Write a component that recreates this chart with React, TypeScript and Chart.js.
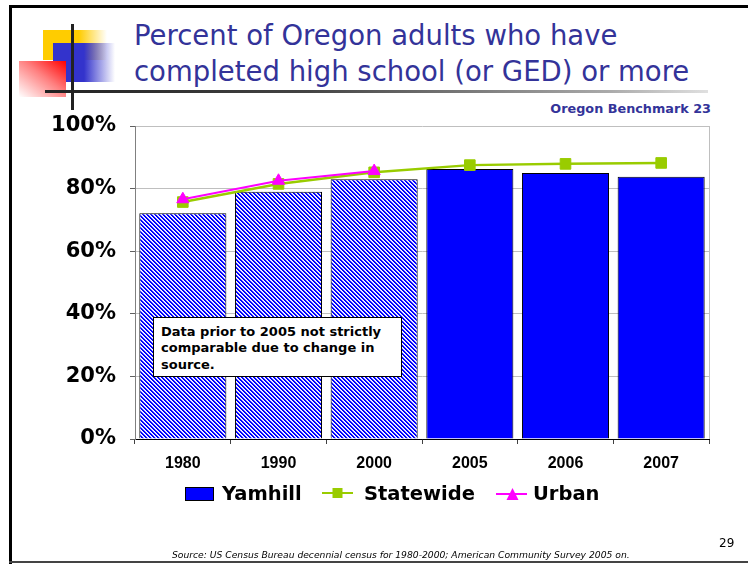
import React, { useEffect, useRef } from "react";
import { Chart, registerables } from "chart.js";

Chart.register(...registerables);

// ---------- data ----------
const categories = ["1980", "1990", "2000", "2005", "2006", "2007"];
const yamhill = [72.1, 79.0, 83.0, 86.3, 85.0, 83.8];
const statewide = [75.7, 81.5, 85.2, 87.5, 87.9, 88.2];
const urban: (number | null)[] = [76.6, 82.5, 85.6, null, null, null];
const yTickStep = 20;
const yMax = 100;
const hatchedCount = 3; // categories before 2005 are drawn hatched
const legendLabels = ["Yamhill", "Statewide", "Urban"];
const titleLines = ["Percent of Oregon adults who have", "completed high school (or GED) or more"];
const subtitle = "Oregon Benchmark 23";
const noteLines = ["Data prior to 2005 not strictly", "comparable due to change in", "source."];
const sourceText = "Source:  US Census Bureau decennial census for 1980-2000; American Community Survey 2005 on.";
const pageNumber = "29";

const TITLE_COLOR = "#333399";
const BLUE = "#0000FF";
const GREEN = "#99CC00";
const MAGENTA = "#FF00FF";

function makeHatch(ctx: CanvasRenderingContext2D): CanvasPattern | string {
  const c = document.createElement("canvas");
  c.width = 4;
  c.height = 4;
  const g = c.getContext("2d");
  if (!g) return BLUE;
  const img = g.createImageData(4, 4);
  const cols = [
    [0, 0, 255],
    [0, 0, 255],
    [200, 200, 255],
    [255, 255, 255],
  ];
  for (let y = 0; y < 4; y++) {
    for (let x = 0; x < 4; x++) {
      const k = (((x - y) % 4) + 4) % 4;
      const o = (y * 4 + x) * 4;
      img.data[o] = cols[k][0];
      img.data[o + 1] = cols[k][1];
      img.data[o + 2] = cols[k][2];
      img.data[o + 3] = 255;
    }
  }
  g.putImageData(img, 0, 0);
  return ctx.createPattern(c, "repeat") || BLUE;
}

const abs = (s: React.CSSProperties): React.CSSProperties => ({ position: "absolute", whiteSpace: "nowrap", ...s });

export default function App() {
  const ref = useRef<HTMLCanvasElement | null>(null);

  useEffect(() => {
    const canvas = ref.current;
    if (!canvas) return;
    const ctx = canvas.getContext("2d");
    if (!ctx) return;
    const hatch = makeHatch(ctx);

    const chart = new Chart(canvas, {
      type: "bar",
      data: {
        labels: categories,
        datasets: [
          {
            type: "line",
            label: legendLabels[2],
            data: urban,
            borderColor: MAGENTA,
            backgroundColor: MAGENTA,
            borderWidth: 2,
            pointStyle: "triangle",
            pointRadius: 7,
            pointBorderWidth: 1,
            pointBorderColor: MAGENTA,
            spanGaps: false,
            order: 1,
          } as any,
          {
            type: "line",
            label: legendLabels[1],
            data: statewide,
            borderColor: GREEN,
            backgroundColor: GREEN,
            borderWidth: 2.5,
            pointStyle: "rect",
            pointRadius: 7.5,
            pointBorderWidth: 1,
            pointBorderColor: GREEN,
            order: 2,
          } as any,
          {
            type: "bar",
            label: legendLabels[0],
            data: yamhill,
            backgroundColor: categories.map((_, i) => (i < hatchedCount ? hatch : BLUE)),
            borderColor: "#000000",
            borderWidth: 1,
            barPercentage: 0.91,
            categoryPercentage: 1,
            order: 3,
          } as any,
        ],
      },
      options: {
        responsive: false,
        animation: false,
        layout: { padding: { left: 0, right: 39, top: 126, bottom: 85 } },
        plugins: {
          legend: { display: false },
          tooltip: { enabled: false },
          title: { display: false },
        },
        scales: {
          x: {
            offset: true,
            grid: {
              offset: true,
              color: (c: any) => (c.tick === undefined ? "#BFBFBF" : "rgba(0,0,0,0)"),
              tickColor: "#404040",
              tickLength: 5,
              lineWidth: 1,
            },
            border: { display: true, color: "#000000", width: 1 },
            ticks: {
              color: "#000000",
              font: { family: "Liberation Sans", weight: "bold", size: 16 },
              padding: 10,
              maxRotation: 0,
            },
            afterFit: (s: any) => {
              s.height = 40;
            },
          } as any,
          y: {
            min: 0,
            max: yMax,
            ticks: {
              stepSize: yTickStep,
              callback: (v: any) => v + "%",
              color: "#000000",
              font: { family: "DejaVu Sans", weight: "bold", size: 21 },
              padding: 14,
            },
            grid: {
              color: (c: any) => (c.tick && c.tick.value === 0 ? "#000000" : "#BFBFBF"),
              tickColor: "#606060",
              tickLength: 5,
            },
            border: { color: "#808080", width: 1 },
            afterFit: (s: any) => {
              s.width = 135;
            },
          } as any,
        },
      },
    });
    return () => chart.destroy();
  }, []);

  return (
    <div
      style={{
        position: "absolute",
        left: 0,
        top: 0,
        width: 748,
        height: 564,
        background: "#ffffff",
        overflow: "hidden",
      }}
    >
      {/* slide border */}
      <div style={abs({ left: 9, top: 5, width: 739, height: 3, background: "#000" })} />
      <div style={abs({ left: 9, top: 5, width: 3, height: 559, background: "#000" })} />
      <div style={abs({ left: 9, top: 561, width: 739, height: 2, background: "#444" })} />

      {/* decoration */}
      <div
        style={abs({
          left: 43,
          top: 30,
          width: 64,
          height: 30,
          background: "linear-gradient(to right, #FFCC00 0%, #FFCC00 56%, rgba(255,255,255,0) 100%)",
        })}
      />
      <div
        style={abs({
          left: 53,
          top: 43,
          width: 62,
          height: 39,
          background: "linear-gradient(to right, #3333CC 0%, #3333CC 50%, rgba(255,255,255,0) 100%)",
        })}
      />
      <div
        style={abs({
          left: 19,
          top: 61,
          width: 47,
          height: 36,
          background: "linear-gradient(to bottom left, #FF0000 0%, #FF8080 45%, #FFFFFF 100%)",
        })}
      />
      <div
        style={abs({
          left: 45,
          top: 90,
          width: 663,
          height: 2.5,
          background: "linear-gradient(to right, #222 0%, #444 40%, #AAA 85%, #E0E0E0 100%)",
        })}
      />
      <div style={abs({ left: 71, top: 24, width: 2.5, height: 86, background: "#222" })} />

      {/* title */}
      <div
        style={abs({
          left: 134,
          top: 17,
          fontFamily: "'DejaVu Sans', sans-serif",
          fontSize: 27.5,
          lineHeight: "36px",
          color: TITLE_COLOR,
        })}
      >
        {titleLines.map((t, i) => (
          <div key={i}>{t}</div>
        ))}
      </div>
      <div
        style={abs({
          right: 37,
          top: 102.4,
          fontFamily: "'DejaVu Sans', sans-serif",
          fontWeight: "bold",
          fontSize: 12.8,
          lineHeight: "13px",
          color: TITLE_COLOR,
        })}
      >
        {subtitle}
      </div>

      {/* chart */}
      <canvas ref={ref} width={748} height={564} style={abs({ left: 0, top: 0, width: 748, height: 564 })} />

      {/* note box */}
      <div
        style={abs({
          left: 153,
          top: 317,
          width: 249,
          height: 60,
          boxSizing: "border-box",
          border: "1px solid #000",
          background: "#fff",
          paddingLeft: 7,
          paddingTop: 6,
          fontFamily: "'DejaVu Sans', sans-serif",
          fontWeight: "bold",
          fontSize: 13,
          lineHeight: "16.3px",
          color: "#000",
        })}
      >
        {noteLines.map((t, i) => (
          <div key={i}>{t}</div>
        ))}
      </div>

      {/* legend */}
      <div
        style={abs({
          left: 185,
          top: 487,
          width: 29,
          height: 14,
          boxSizing: "border-box",
          background: BLUE,
          border: "1px solid #000",
        })}
      />
      <svg style={abs({ left: 322, top: 486, width: 32, height: 14 })} width={32} height={14}>
        <line x1={0} y1={7} x2={31} y2={7} stroke={GREEN} strokeWidth={2} />
        <rect x={10.5} y={2} width={10} height={10} fill={GREEN} />
      </svg>
      <svg style={abs({ left: 496, top: 486, width: 32, height: 16 })} width={32} height={16}>
        <line x1={0} y1={8} x2={31} y2={8} stroke={MAGENTA} strokeWidth={2} />
        <polygon points="16.5,2 22.5,14 10.5,14" fill={MAGENTA} />
      </svg>
      {[
        { t: legendLabels[0], x: 222 },
        { t: legendLabels[1], x: 364 },
        { t: legendLabels[2], x: 533 },
      ].map((l, i) => (
        <div
          key={i}
          style={abs({
            left: l.x,
            top: 484.3,
            fontFamily: "'DejaVu Sans', sans-serif",
            fontWeight: "bold",
            fontSize: 19.5,
            lineHeight: "20px",
            color: "#000",
          })}
        >
          {l.t}
        </div>
      ))}

      {/* footer */}
      <div
        style={abs({
          left: 172,
          top: 550,
          fontFamily: "'DejaVu Sans', sans-serif",
          fontStyle: "italic",
          fontSize: 9.2,
          lineHeight: "10px",
          color: "#000",
        })}
      >
        {sourceText}
      </div>
      <div
        style={abs({
          left: 719,
          top: 536,
          fontFamily: "'DejaVu Sans', sans-serif",
          fontSize: 12,
          lineHeight: "14px",
          color: "#000",
        })}
      >
        {pageNumber}
      </div>
    </div>
  );
}
